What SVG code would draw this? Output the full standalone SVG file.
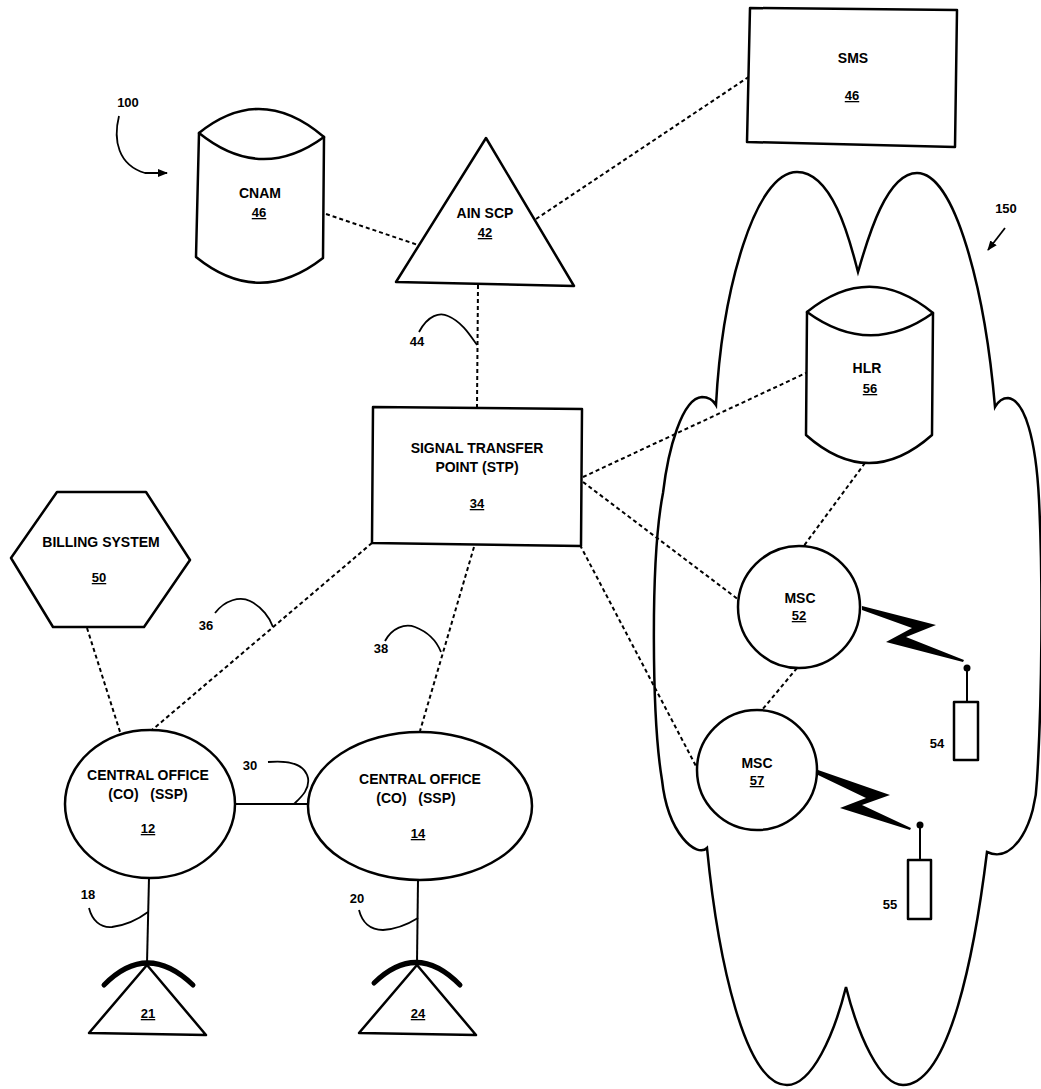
<svg xmlns="http://www.w3.org/2000/svg" width="1041" height="1089" viewBox="0 0 1041 1089">
<defs>
<style>
.s{fill:#fff;stroke:#000;stroke-width:2.5;stroke-linejoin:round}
.o{fill:none;stroke:#000;stroke-width:2.5}
.d{fill:none;stroke:#000;stroke-width:2;stroke-dasharray:4 3}
.l{fill:none;stroke:#000;stroke-width:1.8}
.w{fill:none;stroke:#000;stroke-width:2}
.arc{fill:none;stroke:#000;stroke-width:5;stroke-linecap:round}
.b{fill:#000;stroke:none}
text{font-family:"Liberation Sans",Arial,sans-serif;font-weight:bold;font-size:14px;fill:#000;text-anchor:middle}
.n{font-size:13px}
.u{text-decoration:underline}
</style>
<marker id="ah" markerWidth="10" markerHeight="8" refX="9" refY="4" orient="auto" markerUnits="userSpaceOnUse">
<path d="M0,0 L10,4 L0,8 Z" fill="#000"/>
</marker>
</defs>
<rect width="1041" height="1089" fill="#fff"/>

<g id="cloud150">
<path class="o" d="M716,405 C722,290 755,172 797,172 C835,172 852,250 858,272 C866,245 885,173 917,173 C955,173 985,290 995,407 C999,400 1003,398 1008,398 C1025,400 1036,440 1039,500 C1043,580 1042,700 1037,780 C1036,820 1015,865 987,852 C975,950 950,1085 903,1085 C880,1085 858,1035 846,987 C834,1035 812,1085 787,1085 C745,1085 718,960 707,848 C697,858 668,835 662,780 C652,720 650,560 663,493 C668,450 682,398 702,397 C708,397 713,400 716,405 Z"/>
</g>

<g id="connectors">
<line class="d" x1="326" y1="214" x2="418" y2="245"/>
<line class="d" x1="536" y1="219" x2="750" y2="76"/>
<line class="d" x1="478" y1="285" x2="477" y2="407"/>
<line class="d" x1="583" y1="477" x2="806" y2="373"/>
<line class="d" x1="583" y1="482" x2="739" y2="600"/>
<line class="d" x1="580" y1="545" x2="697" y2="768"/>
<line class="d" x1="865" y1="463" x2="803" y2="547"/>
<line class="d" x1="797" y1="668" x2="762" y2="710"/>
<line class="d" x1="372" y1="543" x2="152" y2="730"/>
<line class="d" x1="474" y1="547" x2="420" y2="731"/>
<line class="d" x1="87" y1="628" x2="121" y2="735"/>
<line class="w" x1="235" y1="804" x2="308" y2="804"/>
<line class="w" x1="149" y1="878" x2="147" y2="963"/>
<line class="w" x1="418" y1="880" x2="417" y2="963"/>
<polygon class="b" points="862,606 936,625 906,637 964,660 963,662 886,642 912,628 862,610"/>
<polygon class="b" points="818,770 890,795 862,805 911,828 910,830 840,808 866,798 818,775"/>
</g>

<g id="leaders">
<path class="l" d="M119,116 C113,140 118,165 145,173 L167,173" marker-end="url(#ah)"/>
<line class="l" x1="1005" y1="228" x2="988" y2="250" marker-end="url(#ah)"/>
<path class="l" d="M419,332 C428,315 440,312 448,316 C462,322 470,335 477,345"/>
<path class="l" d="M215,613 C225,600 240,596 250,601 C262,607 270,618 273,627"/>
<path class="l" d="M385,641 C392,628 405,623 415,627 C428,632 437,642 441,652"/>
<path class="l" d="M268,762 C290,760 305,765 308,778 C310,790 300,798 294,804"/>
<path class="l" d="M89,908 C92,920 100,928 112,927 C128,925 140,918 148,912"/>
<path class="l" d="M359,910 C362,922 370,930 383,930 C398,929 410,923 418,918"/>
</g>

<g id="label100"><text class="n" x="128" y="107">100</text></g>
<g id="label150"><text class="n" x="1006" y="213">150</text></g>

<g id="cnam46">
<path class="s" d="M199,133 L196,257 Q259,308 323,258 L324,137 Z"/>
<path class="s" d="M199,133 Q261,83 324,137 Q261,183 199,133 Z"/>
<text x="260" y="198">CNAM</text>
<text class="n u" x="259" y="217">46</text>
</g>

<g id="ainscp42">
<polygon class="s" points="486,138 574,286 396,282"/>
<text x="485" y="218">AIN SCP</text>
<text class="n u" x="485" y="237">42</text>
</g>

<g id="sms46">
<polygon class="s" points="750,8 957,10 955,147 747,142"/>
<text x="853" y="63">SMS</text>
<text class="n u" x="852" y="100">46</text>
</g>

<g id="hlr56">
<path class="s" d="M807,312 L806,435 Q869,491 932,435 L933,313 Z"/>
<path class="s" d="M807,312 Q870,261 933,313 Q870,358 807,312 Z"/>
<text x="867" y="373">HLR</text>
<text class="n u" x="870" y="393">56</text>
</g>

<g id="stp34">
<polygon class="s" points="373,407 582,409 581,546 372,543"/>
<text x="477" y="453">SIGNAL TRANSFER</text>
<text x="477" y="472">POINT (STP)</text>
<text class="n u" x="477" y="508">34</text>
<text class="n" x="417" y="346">44</text>
</g>

<g id="billing50">
<polygon class="s" points="57,492 146,492 190,560 144,627 53,627 11,558"/>
<text x="101" y="547">BILLING SYSTEM</text>
<text class="n u" x="99" y="582">50</text>
</g>

<g id="labels-links">
<text class="n" x="206" y="630">36</text>
<text class="n" x="381" y="653">38</text>
<text class="n" x="250" y="770">30</text>
<text class="n" x="88" y="899">18</text>
<text class="n" x="357" y="903">20</text>
</g>

<g id="co12">
<ellipse class="s" cx="150" cy="804" rx="85" ry="74"/>
<text x="148" y="780">CENTRAL OFFICE</text>
<text x="148" y="799" xml:space="preserve">(CO)   (SSP)</text>
<text class="n u" x="148" y="833">12</text>
</g>

<g id="co14">
<ellipse class="s" cx="420" cy="806" rx="112" ry="74"/>
<text x="420" y="784">CENTRAL OFFICE</text>
<text x="416" y="803" xml:space="preserve">(CO)   (SSP)</text>
<text class="n u" x="418" y="838">14</text>
</g>

<g id="msc52">
<circle class="s" cx="799" cy="607" r="61"/>
<text x="800" y="603">MSC</text>
<text class="n u" x="799" y="620">52</text>
</g>

<g id="msc57">
<circle class="s" cx="757" cy="770" r="60"/>
<text x="757" y="768">MSC</text>
<text class="n u" x="757" y="785">57</text>
</g>

<g id="mobile54">
<line class="w" x1="967" y1="668" x2="967" y2="702"/>
<circle class="b" cx="967" cy="668" r="3.5"/>
<rect class="s" x="954" y="702" width="24" height="58" stroke-width="2"/>
<text class="n" x="937" y="748">54</text>
</g>

<g id="mobile55">
<line class="w" x1="920" y1="825" x2="920" y2="860"/>
<circle class="b" cx="920" cy="825" r="3.5"/>
<rect class="s" x="908" y="860" width="23" height="59" stroke-width="2"/>
<text class="n" x="890" y="909">55</text>
</g>

<g id="phone21">
<polygon class="s" points="147,965 206,1035 89,1033"/>
<path class="arc" d="M104,985 Q147,941 193,985"/>
<text class="n u" x="148" y="1018">21</text>
</g>

<g id="phone24">
<polygon class="s" points="417,965 476,1035 359,1033"/>
<path class="arc" d="M374,983 Q417,941 460,985"/>
<text class="n u" x="418" y="1018">24</text>
</g>
</svg>
